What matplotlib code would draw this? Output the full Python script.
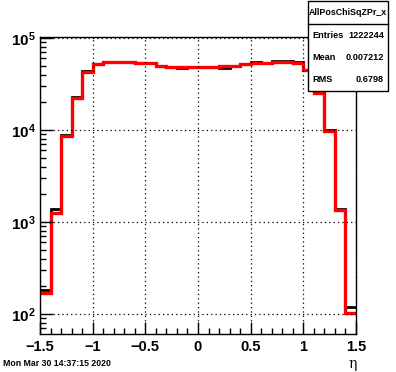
import numpy as np
import matplotlib
matplotlib.use("Agg")
import matplotlib.pyplot as plt
from matplotlib.ticker import LogLocator, MultipleLocator, LogFormatterMathtext, NullFormatter

plt.rcParams['font.family'] = ['Liberation Sans', 'DejaVu Sans']
plt.rcParams['font.weight'] = 'bold'
plt.rcParams['mathtext.fontset'] = 'custom'
plt.rcParams['mathtext.rm'] = 'Liberation Sans:bold'
plt.rcParams['mathtext.bf'] = 'Liberation Sans:bold'
plt.rcParams['mathtext.it'] = 'Liberation Sans:italic:bold'

# bin edges: 30 bins of width 0.1 from -1.5 to 1.5
edges = np.linspace(-1.5, 1.5, 31)

black_counts = [182, 1384, 8750, 22600, 43500, 52500, 55500, 55500, 55000, 53300,
                53000, 50200, 48800, 47200, 48500, 48800, 48800, 47700, 50000, 52000,
                55000, 54000, 56000, 56000, 54500, 45000, 25500, 10000, 1384, 120]
red_counts = [169, 1253, 8530, 22400, 43000, 51800, 54800, 54800, 54800, 53000,
              53000, 50000, 48800, 48800, 48800, 48800, 48800, 50000, 50000, 51800,
              53300, 53300, 54800, 54800, 53000, 44600, 25100, 9750, 1350, 103]

stats_title = "AllPosChiSqZPr_x"
stats_rows = [("Entries", "1222244"), ("Mean", "0.007212"), ("RMS", "0.6798")]
date_text = "Mon Mar 30 14:37:15 2020"

fig = plt.figure(figsize=(3.96, 3.72), dpi=100)
ax = fig.add_axes([40/396, 1-334/372, 316/396, 297/372])

ax.stairs(black_counts, edges, color='black', lw=2.0, baseline=None)
ax.stairs(red_counts, edges, color='red', lw=2.4, baseline=None)

ax.set_yscale('log')
ax.set_xlim(-1.5, 1.5)
ax.set_ylim(10**(2 - 20/92), 10**(2 + 277/92))

ax.xaxis.set_major_locator(MultipleLocator(0.5))
ax.xaxis.set_minor_locator(MultipleLocator(0.1))
ax.yaxis.set_major_locator(LogLocator(base=10))
ax.yaxis.set_minor_locator(LogLocator(base=10, subs=np.arange(2, 10)))
ax.yaxis.set_major_formatter(LogFormatterMathtext())
ax.yaxis.set_minor_formatter(NullFormatter())
ax.xaxis.set_major_formatter(lambda v, p: f"{v:g}".replace('-', '\u2212'))

ax.tick_params(which='both', direction='in', top=False, right=False, width=1)
ax.tick_params(which='major', length=9)
ax.tick_params(which='minor', length=4.5)
ax.tick_params(axis='x', which='major', labelsize=10.5, pad=4)
ax.tick_params(axis='y', which='major', labelsize=11, pad=3)

ax.grid(True, which='major', color='black', linestyle=(0, (1, 2.5)), lw=0.9)
for s in ax.spines.values():
    s.set_linewidth(1)

fig.text(353/396, 1-364/372, "\u03b7", ha='center', va='center', fontsize=10,
         family='DejaVu Serif', weight='normal')
fig.text(3/396, 1-364/372, date_text, ha='left', va='center', fontsize=6.3)

# stats box
bx0, bx1 = 308/396, 388/396
by_top, by_sep, by_bot = 1-1/372, 1-24/372, 1-90.7/372
box = plt.Rectangle((bx0, by_bot), bx1-bx0, by_top-by_bot, transform=fig.transFigure,
                    facecolor='white', edgecolor='black', lw=1, zorder=5)
fig.add_artist(box)
fig.add_artist(plt.Line2D([bx0, bx1], [by_sep, by_sep], transform=fig.transFigure,
                          color='black', lw=1, zorder=6))
fig.text((bx0+bx1)/2, 1-12.5/372, stats_title, ha='center', va='center', fontsize=6.4, zorder=7)
for i, (k, v) in enumerate(stats_rows):
    yy = 1-(35.5 + 22*i)/372
    fig.text(bx0 + 4/396, yy, k, ha='left', va='center', fontsize=6.6, zorder=7)
    fig.text(bx1 - 4/396, yy, v, ha='right', va='center', fontsize=6.6, zorder=7)

fig.savefig("out.png", dpi=100)
